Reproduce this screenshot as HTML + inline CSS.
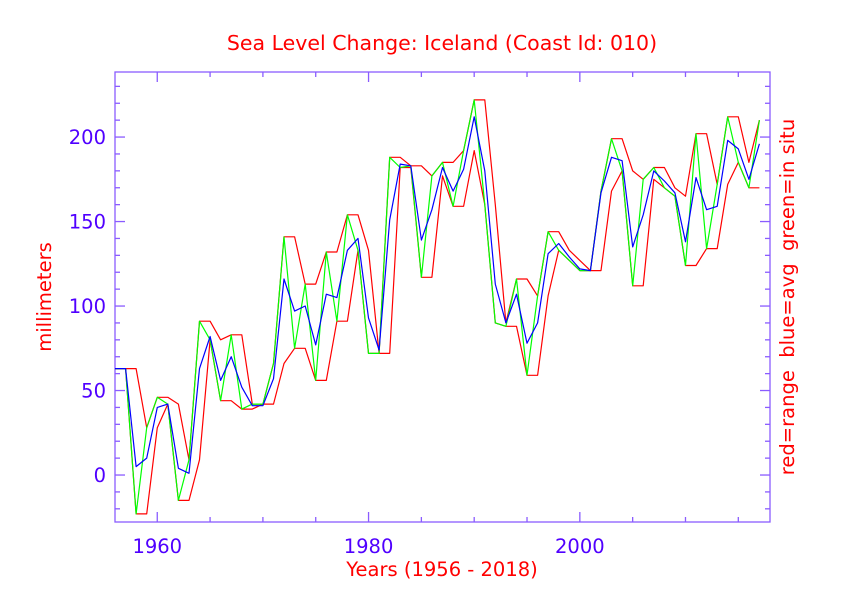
<!DOCTYPE html>
<html><head><meta charset="utf-8"><style>
html,body{margin:0;padding:0;background:#fff;}
svg{display:block;font-family:"DejaVu Sans","Liberation Sans",sans-serif;}
</style></head><body>
<svg id="chart" width="842" height="595" viewBox="0 0 842 595">
<text x="442" y="50" text-anchor="middle" font-size="20.5" fill="#ff0000">Sea Level Change: Iceland (Coast Id: 010)</text>
<text x="442" y="576" text-anchor="middle" font-size="19.5" fill="#ff0000">Years (1956 - 2018)</text>
<text transform="translate(51,297) rotate(-90)" text-anchor="middle" font-size="19.5" fill="#ff0000">millimeters</text>
<text transform="translate(794,297) rotate(-90)" text-anchor="middle" font-size="19.5" fill="#ff0000" xml:space="preserve">red=range  blue=avg  green=in situ</text>
<g id="axes"></g>
<g id="series"></g>
</svg>
<script>
const years = [];
for (let y = 1956; y <= 2017; y++) years.push(y);
const inSitu = [63,63,-23,28,46,42,-15,9,91,80,44,83,39,42,42,66,141,75,113,56,132,91,154,133,72,72,188,182,183,117,177,185,159,192,222,160,90,88,116,59,106,144,133,127,121,121,168,199,180,112,175,182,170,165,124,202,134,172,212,185,170,210];
const average = [63,63,5,10,40,42,4,1,63,82,56,70,52,41,41,57,116,97,100,77,107,105,133,140,93,74,151,184,183,139,157,182,168,181,212,180,113,90,107,78,90,131,137,129,122,121,167,188,186,135,154,180,174,167,138,176,157,159,198,193,175,196];
const rangeHigh = [63,63,63,28,46,46,42,9,91,91,80,83,83,42,42,66,141,141,113,113,132,132,154,154,133,72,188,188,183,183,177,185,185,192,222,222,160,90,116,116,106,144,144,133,127,121,168,199,199,180,175,182,182,170,165,202,202,172,212,212,185,210];
const rangeLow = [63,63,-23,-23,28,42,-15,-15,9,80,44,44,39,39,42,42,66,75,75,56,56,91,91,133,72,72,72,182,182,117,117,177,159,159,192,160,90,88,88,59,59,106,133,127,121,121,121,168,180,112,112,175,170,165,124,124,134,134,172,185,170,170];
const xTicks = [1960, 1980, 2000];
const yTicks = [0, 50, 100, 150, 200];

const L=115, R=770, T=72, B=522;
const X0=1956, X1=2018, Y0=-27.8, Y1=238.5;
const xs = v => L + (v - X0) / (X1 - X0) * (R - L);
const ys = v => B - (v - Y0) / (Y1 - Y0) * (B - T);
const NS='http://www.w3.org/2000/svg';
const axes=document.getElementById('axes'), series=document.getElementById('series');
const AX='#8a5cff', TK='#5000ff';
function mk(tag, attrs, parent){const e=document.createElementNS(NS,tag);for(const k in attrs)e.setAttribute(k,attrs[k]);parent.appendChild(e);return e;}

const frame = mk('rect',{x:L,y:T,width:R-L,height:B-T,fill:'none',stroke:AX,'stroke-width':1.3},axes);



for (let yr = 1960; yr <= 2015; yr += 5) {
  const major = xTicks.includes(yr);
  const len = major ? 10 : 5, x = xs(yr);
  const t1 = mk('line',{x1:x,x2:x,y1:B,y2:B-len,stroke:AX,'stroke-width':1.3},axes);
  
  
  const t2 = mk('line',{x1:x,x2:x,y1:T,y2:T+len,stroke:AX,'stroke-width':1.3},axes);
  
  
}
xTicks.forEach(v=>{
  const t = mk('text',{x:xs(v),y:553,'text-anchor':'middle','font-size':19.5,fill:TK},axes);
  t.textContent=v;
  
  
});
for (let v = -20; v <= 230; v += 10) {
  const major = yTicks.includes(v);
  const len = major ? 10 : 5, y = ys(v);
  const t1 = mk('line',{x1:L,x2:L+len,y1:y,y2:y,stroke:AX,'stroke-width':1.3},axes);
  
  
  const t2 = mk('line',{x1:R,x2:R-len,y1:y,y2:y,stroke:AX,'stroke-width':1.3},axes);
  
  
}
yTicks.forEach(v=>{
  const t = mk('text',{x:106,y:ys(v)+7,'text-anchor':'end','font-size':19.5,fill:TK},axes);
  t.textContent=v;
  
  
});

function line(vals, color, name){
  const d = vals.map((v,i)=>(i?'L':'M')+xs(years[i]).toFixed(1)+','+ys(v).toFixed(1)).join('');
  const p = mk('path',{d:d,fill:'none',stroke:color,'stroke-width':1.2,'stroke-linejoin':'round'},series);
  
  
}
line(rangeHigh,'#ff0000','range-high-line');
line(rangeLow,'#ff0000','range-low-line');
line(inSitu,'#00ff00','in-situ-line');
line(average,'#0000ff','average-line');
</script>
</body></html>
